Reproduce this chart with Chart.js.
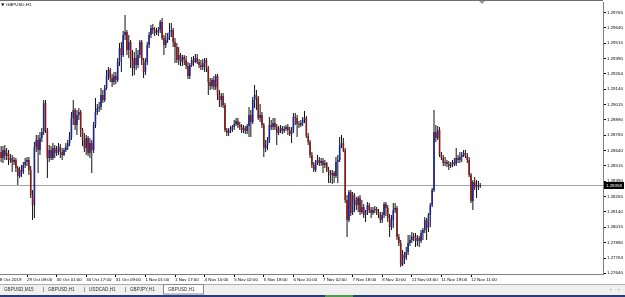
<!DOCTYPE html>
<html>
<head>
<meta charset="utf-8">
<script src="https://cdn.jsdelivr.net/npm/chart.js@4.4.1/dist/chart.umd.min.js"></script>
<style>
  html, body { margin: 0; padding: 0; background: #fff; }
  #wrap { position: relative; width: 625px; height: 297px; }
</style>
</head>
<body>
<div id="wrap"><canvas id="myChart" width="625" height="297"></canvas></div>
<script>
// GBPUSD H1 candles (first visible bar = 28 Oct 19:00)
const opens = [
  1.28627, 1.28578, 1.28643, 1.28595, 1.28619, 1.28562, 1.28578, 1.28546, 1.28562, 1.28497,
  1.28432, 1.28481, 1.28464, 1.28521, 1.28546, 1.28562, 1.28481, 1.28277, 1.28195, 1.28668,
  1.28725, 1.28643, 1.28741, 1.28790, 1.29026, 1.28806, 1.28578, 1.28643, 1.28578, 1.28660,
  1.28619, 1.28643, 1.28668, 1.28627, 1.28603, 1.28643, 1.28668, 1.28700, 1.28749, 1.28904,
  1.28969, 1.28847, 1.28928, 1.28953, 1.28806, 1.28725, 1.28660, 1.28741, 1.28619, 1.28700,
  1.28643, 1.28847, 1.28953, 1.28985, 1.28994, 1.29091, 1.29051, 1.29148, 1.29254, 1.29295,
  1.29230, 1.29197, 1.29246, 1.29213, 1.29360, 1.29474, 1.29417, 1.29580, 1.29604, 1.29458,
  1.29523, 1.29376, 1.29311, 1.29393, 1.29336, 1.29417, 1.29523, 1.29376, 1.29279, 1.29360,
  1.29499, 1.29580, 1.29637, 1.29621, 1.29596, 1.29604, 1.29621, 1.29686, 1.29556, 1.29499,
  1.29539, 1.29564, 1.29604, 1.29621, 1.29523, 1.29482, 1.29376, 1.29417, 1.29360, 1.29401,
  1.29376, 1.29327, 1.29246, 1.29336, 1.29376, 1.29360, 1.29393, 1.29360, 1.29336, 1.29319,
  1.29352, 1.29376, 1.29311, 1.29197, 1.29165, 1.29213, 1.29156, 1.29246, 1.29091, 1.29051,
  1.29083, 1.29010, 1.28806, 1.28782, 1.28798, 1.28814, 1.28831, 1.28855, 1.28880, 1.28847,
  1.28831, 1.28806, 1.28823, 1.28798, 1.28839, 1.28928, 1.28871, 1.29051, 1.29091, 1.29067,
  1.28904, 1.28928, 1.28847, 1.28660, 1.28684, 1.28725, 1.28847, 1.28831, 1.28863, 1.28831,
  1.28782, 1.28806, 1.28823, 1.28798, 1.28814, 1.28831, 1.28806, 1.28774, 1.28806, 1.28912,
  1.28904, 1.28855, 1.28847, 1.28863, 1.28888, 1.28904, 1.28757, 1.28709, 1.28603, 1.28521,
  1.28481, 1.28538, 1.28562, 1.28538, 1.28554, 1.28521, 1.28538, 1.28481, 1.28464, 1.28440,
  1.28456, 1.28432, 1.28546, 1.28562, 1.28684, 1.28700, 1.28643, 1.28236, 1.28073, 1.28301,
  1.28130, 1.28277, 1.28236, 1.28195, 1.28252, 1.28138, 1.28179, 1.28114, 1.28138, 1.28195,
  1.28155, 1.28130, 1.28155, 1.28163, 1.28138, 1.28114, 1.28073, 1.28114, 1.28204, 1.28171,
  1.28090, 1.28016, 1.28073, 1.28155, 1.28171, 1.27935, 1.27886, 1.27707, 1.27788, 1.27764,
  1.27813, 1.27886, 1.27910, 1.27935, 1.27943, 1.27902, 1.27927, 1.27902, 1.27967, 1.27992,
  1.28073, 1.28008, 1.28114, 1.28195, 1.28318, 1.28790, 1.28741, 1.28806, 1.28603, 1.28578,
  1.28538, 1.28546, 1.28529, 1.28513, 1.28521, 1.28546, 1.28529, 1.28578, 1.28562, 1.28586,
  1.28603, 1.28619, 1.28595, 1.28562, 1.28440, 1.28228, 1.28383, 1.28342, 1.28358, 1.28350
];
const highs = [
  1.28676, 1.28676, 1.28684, 1.28660, 1.28643, 1.28611, 1.28603, 1.28586, 1.28578, 1.28513,
  1.28505, 1.28521, 1.28546, 1.28578, 1.28586, 1.28586, 1.28513, 1.28318, 1.28709, 1.28766,
  1.28766, 1.28790, 1.28823, 1.29051, 1.29051, 1.28823, 1.28684, 1.28676, 1.28700, 1.28684,
  1.28676, 1.28700, 1.28692, 1.28660, 1.28660, 1.28700, 1.28725, 1.28790, 1.28953, 1.29051,
  1.28985, 1.28969, 1.28985, 1.28969, 1.28823, 1.28782, 1.28766, 1.28757, 1.28741, 1.28725,
  1.28871, 1.29067, 1.29018, 1.29034, 1.29148, 1.29132, 1.29173, 1.29295, 1.29319, 1.29311,
  1.29262, 1.29279, 1.29279, 1.29393, 1.29515, 1.29523, 1.29613, 1.29743, 1.29621, 1.29580,
  1.29539, 1.29458, 1.29442, 1.29474, 1.29458, 1.29539, 1.29539, 1.29393, 1.29393, 1.29523,
  1.29604, 1.29661, 1.29670, 1.29645, 1.29637, 1.29645, 1.29702, 1.29718, 1.29580, 1.29596,
  1.29596, 1.29678, 1.29678, 1.29637, 1.29556, 1.29515, 1.29482, 1.29433, 1.29417, 1.29417,
  1.29409, 1.29360, 1.29352, 1.29401, 1.29409, 1.29425, 1.29425, 1.29385, 1.29376, 1.29385,
  1.29393, 1.29393, 1.29327, 1.29230, 1.29230, 1.29246, 1.29262, 1.29262, 1.29132, 1.29108,
  1.29108, 1.29026, 1.28823, 1.28823, 1.28839, 1.28847, 1.28888, 1.28904, 1.28904, 1.28871,
  1.28855, 1.28847, 1.28839, 1.28855, 1.28994, 1.28969, 1.29075, 1.29173, 1.29132, 1.29083,
  1.29018, 1.28953, 1.28863, 1.28725, 1.28749, 1.28912, 1.28888, 1.28904, 1.28904, 1.28855,
  1.28839, 1.28847, 1.28839, 1.28839, 1.28847, 1.28855, 1.28831, 1.28831, 1.28945, 1.28945,
  1.28928, 1.28880, 1.28888, 1.28912, 1.28961, 1.28920, 1.28782, 1.28725, 1.28627, 1.28546,
  1.28562, 1.28603, 1.28586, 1.28578, 1.28578, 1.28562, 1.28546, 1.28505, 1.28481, 1.28481,
  1.28472, 1.28586, 1.28603, 1.28749, 1.28766, 1.28741, 1.28660, 1.28277, 1.28318, 1.28318,
  1.28301, 1.28293, 1.28261, 1.28269, 1.28277, 1.28236, 1.28204, 1.28155, 1.28220, 1.28212,
  1.28179, 1.28179, 1.28187, 1.28179, 1.28163, 1.28138, 1.28138, 1.28220, 1.28220, 1.28195,
  1.28122, 1.28114, 1.28212, 1.28212, 1.28187, 1.27959, 1.27910, 1.27829, 1.27813, 1.27853,
  1.27951, 1.27951, 1.27976, 1.27967, 1.27967, 1.27951, 1.27943, 1.27992, 1.28008, 1.28098,
  1.28090, 1.28130, 1.28212, 1.28334, 1.28969, 1.28847, 1.28839, 1.28831, 1.28627, 1.28603,
  1.28586, 1.28562, 1.28554, 1.28546, 1.28562, 1.28578, 1.28660, 1.28603, 1.28627, 1.28627,
  1.28643, 1.28643, 1.28619, 1.28586, 1.28456, 1.28399, 1.28424, 1.28399, 1.28391, 1.28375
];
const lows = [
  1.28546, 1.28538, 1.28562, 1.28562, 1.28521, 1.28538, 1.28464, 1.28521, 1.28464, 1.28358,
  1.28415, 1.28424, 1.28448, 1.28497, 1.28513, 1.28440, 1.28252, 1.28073, 1.28090, 1.28627,
  1.28456, 1.28603, 1.28709, 1.28766, 1.28782, 1.28415, 1.28546, 1.28562, 1.28562, 1.28578,
  1.28595, 1.28603, 1.28578, 1.28562, 1.28595, 1.28627, 1.28643, 1.28676, 1.28725, 1.28847,
  1.28806, 1.28766, 1.28888, 1.28749, 1.28676, 1.28627, 1.28603, 1.28595, 1.28578, 1.28456,
  1.28619, 1.28823, 1.28928, 1.28953, 1.28969, 1.29026, 1.29034, 1.29132, 1.29213, 1.29197,
  1.29156, 1.29173, 1.29181, 1.29197, 1.29327, 1.29279, 1.29401, 1.29539, 1.29417, 1.29393,
  1.29311, 1.29246, 1.29254, 1.29295, 1.29311, 1.29393, 1.29336, 1.29230, 1.29254, 1.29336,
  1.29474, 1.29556, 1.29588, 1.29572, 1.29580, 1.29572, 1.29596, 1.29539, 1.29417, 1.29474,
  1.29515, 1.29539, 1.29564, 1.29482, 1.29352, 1.29352, 1.29336, 1.29327, 1.29327, 1.29336,
  1.29303, 1.29222, 1.29222, 1.29319, 1.29327, 1.29352, 1.29344, 1.29311, 1.29295, 1.29295,
  1.29279, 1.29279, 1.29091, 1.29132, 1.29140, 1.29132, 1.29132, 1.29051, 1.28994, 1.28994,
  1.28985, 1.28790, 1.28757, 1.28757, 1.28782, 1.28790, 1.28806, 1.28839, 1.28823, 1.28806,
  1.28782, 1.28782, 1.28774, 1.28774, 1.28749, 1.28749, 1.28855, 1.28985, 1.28969, 1.28888,
  1.28871, 1.28823, 1.28586, 1.28627, 1.28643, 1.28700, 1.28806, 1.28806, 1.28806, 1.28684,
  1.28766, 1.28782, 1.28774, 1.28782, 1.28798, 1.28766, 1.28757, 1.28700, 1.28782, 1.28847,
  1.28749, 1.28823, 1.28831, 1.28839, 1.28863, 1.28741, 1.28684, 1.28578, 1.28497, 1.28464,
  1.28464, 1.28521, 1.28513, 1.28513, 1.28456, 1.28497, 1.28464, 1.28375, 1.28375, 1.28367,
  1.28375, 1.28415, 1.28375, 1.28546, 1.28660, 1.28627, 1.28212, 1.27935, 1.28057, 1.28106,
  1.28114, 1.28138, 1.28155, 1.28138, 1.28114, 1.28122, 1.28090, 1.28057, 1.28114, 1.28130,
  1.28090, 1.28114, 1.28130, 1.28114, 1.28090, 1.28049, 1.28049, 1.28090, 1.28106, 1.28057,
  1.27935, 1.27992, 1.28008, 1.28130, 1.27910, 1.27862, 1.27691, 1.27699, 1.27715, 1.27748,
  1.27788, 1.27862, 1.27886, 1.27902, 1.27853, 1.27862, 1.27853, 1.27886, 1.27910, 1.27967,
  1.27910, 1.27976, 1.28016, 1.28179, 1.28301, 1.28709, 1.28725, 1.28586, 1.28562, 1.28513,
  1.28513, 1.28505, 1.28481, 1.28497, 1.28505, 1.28513, 1.28513, 1.28538, 1.28538, 1.28546,
  1.28586, 1.28578, 1.28538, 1.28424, 1.28212, 1.28155, 1.28318, 1.28252, 1.28318, 1.28334
];
const closes = [
  1.28578, 1.28643, 1.28595, 1.28619, 1.28562, 1.28578, 1.28546, 1.28562, 1.28497, 1.28432,
  1.28481, 1.28464, 1.28521, 1.28546, 1.28562, 1.28481, 1.28277, 1.28195, 1.28668, 1.28725,
  1.28643, 1.28741, 1.28790, 1.29026, 1.28806, 1.28578, 1.28643, 1.28578, 1.28660, 1.28619,
  1.28643, 1.28668, 1.28627, 1.28603, 1.28643, 1.28668, 1.28700, 1.28749, 1.28904, 1.28969,
  1.28847, 1.28928, 1.28953, 1.28806, 1.28725, 1.28660, 1.28741, 1.28619, 1.28700, 1.28643,
  1.28847, 1.28953, 1.28985, 1.28994, 1.29091, 1.29051, 1.29148, 1.29254, 1.29295, 1.29230,
  1.29197, 1.29246, 1.29213, 1.29360, 1.29474, 1.29417, 1.29580, 1.29604, 1.29458, 1.29523,
  1.29376, 1.29311, 1.29393, 1.29336, 1.29417, 1.29523, 1.29376, 1.29279, 1.29360, 1.29499,
  1.29580, 1.29637, 1.29621, 1.29596, 1.29604, 1.29621, 1.29686, 1.29556, 1.29499, 1.29539,
  1.29564, 1.29604, 1.29621, 1.29523, 1.29482, 1.29376, 1.29417, 1.29360, 1.29401, 1.29376,
  1.29327, 1.29246, 1.29336, 1.29376, 1.29360, 1.29393, 1.29360, 1.29336, 1.29319, 1.29352,
  1.29376, 1.29311, 1.29197, 1.29165, 1.29213, 1.29156, 1.29246, 1.29091, 1.29051, 1.29083,
  1.29010, 1.28806, 1.28782, 1.28798, 1.28814, 1.28831, 1.28855, 1.28880, 1.28847, 1.28831,
  1.28806, 1.28823, 1.28798, 1.28839, 1.28928, 1.28871, 1.29051, 1.29091, 1.29067, 1.28904,
  1.28928, 1.28847, 1.28660, 1.28684, 1.28725, 1.28847, 1.28831, 1.28863, 1.28831, 1.28782,
  1.28806, 1.28823, 1.28798, 1.28814, 1.28831, 1.28806, 1.28774, 1.28806, 1.28912, 1.28904,
  1.28855, 1.28847, 1.28863, 1.28888, 1.28904, 1.28757, 1.28709, 1.28603, 1.28521, 1.28481,
  1.28538, 1.28562, 1.28538, 1.28554, 1.28521, 1.28538, 1.28481, 1.28464, 1.28440, 1.28456,
  1.28432, 1.28546, 1.28562, 1.28684, 1.28700, 1.28643, 1.28236, 1.28073, 1.28301, 1.28130,
  1.28277, 1.28236, 1.28195, 1.28252, 1.28138, 1.28179, 1.28114, 1.28138, 1.28195, 1.28155,
  1.28130, 1.28155, 1.28163, 1.28138, 1.28114, 1.28073, 1.28114, 1.28204, 1.28171, 1.28090,
  1.28016, 1.28073, 1.28155, 1.28171, 1.27935, 1.27886, 1.27707, 1.27788, 1.27764, 1.27813,
  1.27886, 1.27910, 1.27935, 1.27943, 1.27902, 1.27927, 1.27902, 1.27967, 1.27992, 1.28073,
  1.28008, 1.28114, 1.28195, 1.28318, 1.28790, 1.28741, 1.28806, 1.28603, 1.28578, 1.28538,
  1.28546, 1.28529, 1.28513, 1.28521, 1.28546, 1.28529, 1.28578, 1.28562, 1.28586, 1.28603,
  1.28619, 1.28595, 1.28562, 1.28440, 1.28228, 1.28383, 1.28342, 1.28358, 1.28350, 1.28358
];

// time axis labels, one every 16 bars (first one sits 2 bars left of the first visible bar)
const timeLabels = [
  "28 Oct 2019", "29 Oct 09:00", "30 Oct 01:00", "30 Oct 17:00", "31 Oct 09:00",
  "1 Nov 01:00", "1 Nov 17:00", "4 Nov 10:00", "5 Nov 02:00", "5 Nov 18:00",
  "6 Nov 10:00", "7 Nov 02:00", "7 Nov 18:00", "8 Nov 10:00", "11 Nov 03:00",
  "11 Nov 19:00", "12 Nov 11:00"
];
const priceTicks = [
  1.29765, 1.29640, 1.29515, 1.29390, 1.29264, 1.29140, 1.29015, 1.28890, 1.28765,
  1.28640, 1.28515, 1.28390, 1.28265, 1.28140, 1.28015, 1.27890, 1.27764, 1.27640
];
const tabNames = ["GBPUSD,M15", "GBPUSD,H1", "USDCAD,H1", "GBPJPY,H1", "GBPUSD,H1"];

const symbolTitle = "GBPUSD,H1";
const bullColor = "#1c2596";
const bearColor = "#8a1616";
const tinyFont = "Liberation Sans";

const wickData = closes.map((c, i) => ({ x: i, y: [lows[i], highs[i]] }));
const bodyData = closes.map((c, i) => ({ x: i, y: [opens[i], c] }));
const bodyColors = closes.map((c, i) => c > opens[i] ? bullColor : (c < opens[i] ? bearColor : "#000"));

const lastPrice = closes[closes.length - 1];

const mtDecor = {
  id: "mtDecor",
  beforeDatasetsDraw(chart) {
    const { ctx, chartArea: a, scales } = chart;
    const py = Math.round(scales.y.getPixelForValue(lastPrice)) + 0.5;
    ctx.save();
    ctx.strokeStyle = "#a4a4a4";
    ctx.lineWidth = 1;
    ctx.beginPath();
    ctx.moveTo(a.left, py);
    ctx.lineTo(a.right, py);
    ctx.stroke();
    ctx.restore();
  },
  afterDraw(chart) {
    const { ctx, chartArea: a, scales, width } = chart;
    const py = Math.round(scales.y.getPixelForValue(lastPrice)) + 0.5;
    ctx.save();

    // top frame line + chart shift marker
    ctx.fillStyle = "#6e6e6e";
    ctx.fillRect(0, 0, a.right, 1);
    ctx.fillStyle = "#9a9a9a";
    ctx.beginPath();
    ctx.moveTo(479, 1); ctx.lineTo(485, 1); ctx.lineTo(482, 4); ctx.closePath();
    ctx.fill();

    // symbol title
    ctx.fillStyle = "#000";
    ctx.beginPath();
    ctx.moveTo(1, 3.5); ctx.lineTo(4.5, 3.5); ctx.lineTo(2.75, 6); ctx.closePath();
    ctx.fill();
    ctx.font = "4.4px " + tinyFont;
    ctx.textBaseline = "middle";
    ctx.textAlign = "left";
    ctx.fillText(symbolTitle, 6, 5);

    // current price box on the axis
    ctx.fillStyle = "#000";
    ctx.fillRect(a.right + 1, py - 3.5, 20, 7);
    ctx.fillStyle = "#fff";
    ctx.fillText(lastPrice.toFixed(5), a.right + 3, py);

    // tab strip
    const tabTop = 284;
    ctx.fillStyle = "#f0f0f0";
    ctx.fillRect(0, tabTop, width, 11);
    ctx.fillStyle = "#b0b0b0";
    ctx.fillRect(0, tabTop, width, 1);
    ctx.fillStyle = "#fff";
    ctx.fillRect(163, tabTop, 40, 10);
    ctx.strokeStyle = "#8a8a8a";
    ctx.lineWidth = 1;
    ctx.strokeRect(163.5, tabTop + 0.5, 40, 9.5);
    const tabX = [4, 48, 89, 130, 168];
    ctx.font = "4.6px " + tinyFont;
    ctx.fillStyle = "#333";
    tabNames.forEach((t, i) => ctx.fillText(t, tabX[i], tabTop + 5.5));
    ctx.fillStyle = "#999";
    [43, 84, 125].forEach(x => ctx.fillRect(x, tabTop + 3, 1, 5));
    ctx.fillStyle = "#777";
    ctx.fillText("\u2039", 610, tabTop + 5.5);
    ctx.fillText("\u203A", 618, tabTop + 5.5);

    // task bar strip at the very bottom
    ctx.fillStyle = "#243f7a";
    ctx.fillRect(0, 295, width, 2);
    ctx.fillStyle = "#4e9a4e";
    ctx.fillRect(325, 295, 28, 2);
    ctx.restore();
  }
};

const ctx = document.getElementById("myChart").getContext("2d");

const myChart = new Chart(ctx, {
  type: "bar",
  data: {
    datasets: [
      {
        label: "wick",
        data: wickData,
        backgroundColor: "#101010",
        barThickness: 1,
        inflateAmount: 0,
        grouped: false,
        order: 2
      },
      {
        label: "body",
        data: bodyData,
        backgroundColor: bodyColors,
        barThickness: 1.6,
        inflateAmount: 0,
        minBarLength: 1,
        grouped: false,
        order: 1
      }
    ]
  },
  options: {
    responsive: false,
    animation: false,
    layout: { padding: { top: 2, left: 0, right: 0, bottom: 13 } },
    plugins: {
      legend: { display: false },
      tooltip: { enabled: false }
    },
    scales: {
      x: {
        type: "linear",
        offset: false,
        bounds: "data",
        min: -0.6,
        max: 325.35,
        grid: { offset: false, drawOnChartArea: false, drawTicks: true, tickLength: 3, color: "#000" },
        border: { display: true, color: "#808080" },
        ticks: {
          autoSkip: false,
          maxRotation: 0,
          align: "start",
          padding: 0,
          color: "#000",
          font: { family: tinyFont, size: 4.4 },
          callback: (v, i) => timeLabels[i]
        },
        afterBuildTicks: (axis) => {
          axis.ticks = timeLabels.map((t, i) => ({ value: -2 + 16 * i }));
        },
        afterFit: (axis) => {
          axis.height = 10;
          axis.paddingLeft = 0;
          axis.paddingRight = 0;
        }
      },
      y: {
        position: "right",
        bounds: "data",
        min: 1.27634,
        max: 1.29849,
        grid: { drawOnChartArea: false, drawTicks: true, tickLength: 3, color: "#000" },
        border: { display: true, color: "#808080" },
        ticks: {
          padding: 1,
          color: "#000",
          font: { family: tinyFont, size: 4.4 },
          callback: (v) => v.toFixed(5)
        },
        afterBuildTicks: (axis) => {
          axis.ticks = priceTicks.map(v => ({ value: v }));
        },
        afterFit: (axis) => {
          axis.width = 22;
          axis.paddingTop = 0;
          axis.paddingBottom = 0;
        }
      }
    }
  },
  plugins: [mtDecor]
});
</script>
</body>
</html>
